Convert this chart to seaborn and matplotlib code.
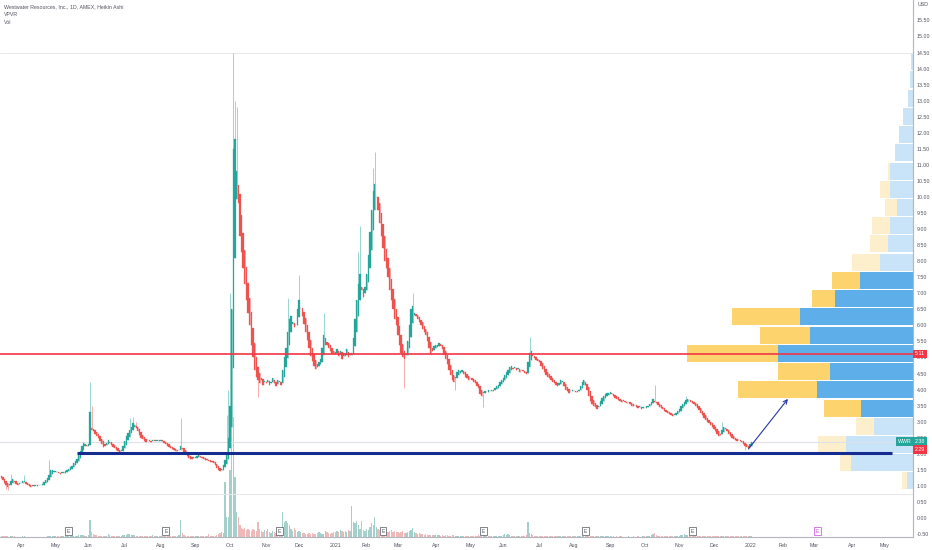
import numpy as np
import pandas as pd
import seaborn as sns
import matplotlib.pyplot as plt

# Heikin Ashi closes, one list per month (USD)
close_2020_03 = [1.30, 1.25, 1.18, 1.10, 1.02, 0.98, 1.05, 1.15, 1.22, 1.12, 1.06, 1.04, 1.08]
close_2020_04 = [1.10, 1.15, 1.12, 1.05, 1.02, 1.00, 0.98, 1.00, 1.02, 1.01, 1.03, 1.02, 1.04, 1.05,
                 1.12, 1.18, 1.25, 1.35, 1.50, 1.48, 1.45]
close_2020_05 = [1.45, 1.42, 1.40, 1.38, 1.40, 1.42, 1.45, 1.48, 1.52, 1.58, 1.62, 1.70, 1.78, 1.85,
                 1.95, 2.10, 2.25, 2.35, 2.30, 2.25]
close_2020_06 = [2.30, 3.30, 2.75, 2.70, 2.62, 2.55, 2.48, 2.40, 2.30, 2.20, 2.25, 2.35, 2.43, 2.35,
                 2.28, 2.22, 2.18, 2.12, 2.08, 2.05, 2.10, 2.25]
close_2020_07 = [2.40, 2.55, 2.65, 2.75, 2.85, 2.95, 2.90, 2.80, 2.70, 2.60, 2.50, 2.45, 2.40, 2.38,
                 2.42, 2.40, 2.38, 2.42, 2.40, 2.41, 2.43, 2.40]
close_2020_08 = [2.44, 2.40, 2.35, 2.30, 2.25, 2.22, 2.18, 2.15, 2.12, 2.10, 2.08, 2.12, 2.25, 2.15,
                 2.05, 1.98, 1.92, 1.88, 1.85, 1.85, 1.88]
close_2020_09 = [1.88, 1.92, 1.95, 1.90, 1.86, 1.84, 1.82, 1.80, 1.78, 1.76, 1.75, 1.70, 1.65, 1.55,
                 1.48, 1.45, 1.52, 1.65, 1.80, 2.00, 2.50]
close_2020_10 = [3.50, 6.50, 11.50, 11.80, 10.80, 9.80, 8.80, 8.30, 7.80, 7.30, 6.80, 6.40, 6.00, 5.40,
                 5.00, 4.60, 4.40, 4.30, 4.20, 4.30, 4.15, 4.25]
close_2020_11 = [4.20, 4.30, 4.15, 4.25, 4.35, 4.20, 4.10, 4.30, 4.25, 4.15, 4.60, 5.00, 5.30, 5.80,
                 6.20, 6.30, 6.10, 5.95, 6.00, 6.50]
close_2020_12 = [6.80, 6.55, 6.30, 6.05, 5.80, 5.55, 5.30, 5.05, 4.90, 4.75, 4.65, 4.70, 4.85, 4.95,
                 5.30, 5.70, 5.60, 5.40, 5.30, 5.20, 5.10, 5.15]
close_2021_01 = [5.10, 5.25, 5.05, 5.20, 4.95, 5.15, 5.05, 5.25, 5.00, 5.10, 5.15, 5.60, 6.20, 6.80,
                 7.30, 7.60, 7.10, 6.90, 7.20]
close_2021_02 = [7.60, 8.20, 8.90, 9.60, 10.20, 10.40, 10.00, 9.60, 9.20, 8.80, 8.40, 8.00, 7.80, 7.50,
                 7.10, 6.80, 6.50, 6.20, 6.00]
close_2021_03 = [5.70, 5.40, 5.15, 5.00, 4.95, 5.10, 5.50, 6.00, 6.50, 6.60, 6.40, 6.30, 6.20, 6.10,
                 6.00, 5.90, 5.80, 5.70, 5.50, 5.30, 5.10, 5.20, 5.35]
close_2021_04 = [5.38, 5.40, 5.45, 5.35, 5.25, 5.10, 4.95, 4.80, 4.60, 4.45, 4.30, 4.25, 4.40, 4.55,
                 4.60, 4.58, 4.62, 4.50, 4.40, 4.35, 4.30]
close_2021_05 = [4.35, 4.30, 4.25, 4.20, 4.10, 4.05, 3.85, 3.80, 3.90, 3.95, 3.92, 3.98, 3.95, 4.00,
                 3.97, 4.05, 4.10, 4.15, 4.25, 4.30]
close_2021_06 = [4.35, 4.45, 4.55, 4.60, 4.70, 4.75, 4.65, 4.70, 4.60, 4.65, 4.55, 4.60, 4.58, 4.52,
                 4.50, 4.85, 5.15, 5.20, 5.05, 4.98, 4.92, 4.88]
close_2021_07 = [4.85, 4.75, 4.65, 4.55, 4.45, 4.40, 4.35, 4.30, 4.25, 4.20, 4.15, 4.10, 4.20, 4.30,
                 4.25, 4.10, 4.00, 3.95, 3.90, 3.95, 3.98]
close_2021_08 = [3.95, 3.92, 3.97, 4.00, 4.10, 4.25, 4.30, 4.15, 4.00, 3.80, 3.65, 3.55, 3.50, 3.45,
                 3.40, 3.50, 3.65, 3.75, 3.80, 3.85, 3.88, 3.90]
close_2021_09 = [3.92, 3.85, 3.80, 3.75, 3.72, 3.68, 3.65, 3.62, 3.66, 3.60, 3.58, 3.62, 3.55, 3.50,
                 3.48, 3.52, 3.45, 3.42, 3.48, 3.40, 3.45]
close_2021_10 = [3.42, 3.48, 3.50, 3.55, 3.62, 3.70, 3.62, 3.58, 3.52, 3.47, 3.42, 3.38, 3.33, 3.29,
                 3.27, 3.24, 3.21, 3.19, 3.22, 3.28, 3.34]
close_2021_11 = [3.40, 3.48, 3.55, 3.62, 3.67, 3.72, 3.68, 3.62, 3.58, 3.55, 3.50, 3.42, 3.35, 3.28,
                 3.20, 3.12, 3.05, 3.00, 2.95, 2.90, 2.85]
close_2021_12 = [2.78, 2.70, 2.62, 2.55, 2.60, 2.75, 2.85, 2.80, 2.70, 2.62, 2.55, 2.50, 2.45, 2.42,
                 2.40, 2.42, 2.40, 2.38, 2.30, 2.25, 2.20, 2.18]
close_2022_01 = [2.30, 2.38]

# daily volume, millions of shares
vol_2020_03 = [1.5, 1.2, 1.0, 0.8, 0.8, 0.6, 0.5, 0.7, 0.8, 0.6, 0.5, 0.5, 0.4]
vol_2020_04 = [0.5, 0.8, 0.6, 0.5, 0.4, 0.4, 0.3, 0.4, 0.3, 0.3, 0.4, 0.3, 0.4, 0.5, 0.4, 0.5, 0.6,
               0.8, 1.2, 1.0, 1.5]
vol_2020_05 = [1.2, 1.0, 0.8, 0.6, 0.6, 0.7, 0.8, 0.9, 1.0, 1.0, 1.2, 1.3, 1.4, 1.5, 1.8, 2.2, 2.0,
               1.8, 1.5, 1.4]
vol_2020_06 = [1.8, 17.0, 5.0, 3.0, 2.2, 1.8, 1.5, 1.4, 1.2, 1.2, 1.0, 1.5, 3.0, 1.8, 1.2, 1.0, 1.1,
               0.9, 0.9, 1.0, 1.4, 2.0]
vol_2020_07 = [2.5, 2.2, 3.0, 2.8, 2.0, 2.5, 1.8, 1.5, 1.4, 1.2, 1.0, 1.0, 0.9, 1.0, 1.2, 1.0, 0.8,
               2.5, 1.2, 0.8, 0.9, 1.0]
vol_2020_08 = [1.0, 0.9, 0.8, 0.8, 0.7, 0.8, 0.9, 0.8, 0.9, 0.8, 1.0, 2.0, 17.0, 4.0, 2.0, 1.5, 1.2,
               1.0, 1.0, 0.9, 0.9]
vol_2020_09 = [0.8, 0.7, 0.8, 0.9, 1.0, 1.2, 1.0, 1.2, 3.0, 1.5, 1.2, 1.0, 1.5, 2.5, 3.5, 4.5, 5.0,
               4.0, 55.0, 20.0, 20.0]
vol_2020_10 = [67.0, 130.0, 120.0, 60.0, 25.0, 20.0, 12.0, 9.0, 8.0, 9.0, 7.0, 8.0, 7.0, 6.0, 8.0, 7.0,
               6.0, 15.0, 8.0, 6.0, 5.0, 7.0]
vol_2020_11 = [6.0, 8.0, 5.0, 4.0, 6.0, 5.0, 4.0, 7.0, 5.0, 6.0, 25.0, 15.0, 16.0, 14.0, 12.0, 8.0,
               6.0, 9.0, 7.0, 5.0]
vol_2020_12 = [6.0, 5.0, 4.0, 4.0, 3.5, 3.0, 4.0, 3.0, 4.5, 3.5, 3.0, 4.0, 5.0, 4.0, 3.0, 3.5, 6.0,
               5.0, 4.0, 3.0, 4.0, 5.0]
vol_2021_01 = [5.0, 6.0, 5.0, 7.0, 6.0, 5.0, 6.0, 5.0, 7.0, 6.0, 31.0, 15.0, 14.0, 16.0, 12.0, 8.0,
               16.0, 7.0, 6.0]
vol_2021_02 = [8.0, 7.0, 10.0, 14.0, 12.0, 20.0, 10.0, 8.0, 7.0, 6.0, 8.0, 7.0, 6.0, 5.0, 6.0, 7.0,
               5.0, 6.0, 5.0]
vol_2021_03 = [5.0, 4.0, 5.0, 6.0, 4.0, 4.0, 5.0, 6.0, 7.0, 9.0, 5.0, 4.0, 3.0, 4.0, 3.0, 3.0, 2.5,
               3.0, 2.5, 2.0, 2.5, 2.0, 2.0]
vol_2021_04 = [2.0, 2.5, 2.0, 1.5, 2.0, 1.5, 1.8, 2.0, 1.5, 1.5, 2.5, 2.0, 1.5, 1.2, 1.5, 1.2, 1.0,
               1.2, 1.5, 1.0, 1.2]
vol_2021_05 = [1.5, 1.2, 1.0, 1.2, 1.5, 2.0, 1.5, 1.2, 1.0, 1.2, 1.0, 0.8, 1.0, 1.2, 1.0, 0.9, 1.0,
               1.2, 1.5, 1.5]
vol_2021_06 = [2.5, 3.0, 2.5, 3.0, 2.0, 1.5, 1.5, 1.2, 1.0, 1.2, 1.0, 1.0, 1.2, 1.5, 2.5, 15.0, 4.0,
               3.0, 2.0, 1.5, 1.5, 1.2]
vol_2021_07 = [1.2, 1.0, 1.0, 0.9, 0.8, 0.8, 0.9, 0.8, 0.7, 0.8, 0.7, 0.8, 1.0, 1.2, 0.9, 0.8, 0.8,
               0.7, 0.7, 0.6, 0.7]
vol_2021_08 = [0.7, 0.6, 0.7, 0.8, 1.0, 1.2, 1.0, 0.9, 0.8, 0.8, 0.7, 0.7, 0.8, 0.7, 0.6, 0.8, 0.9,
               0.8, 0.7, 0.7, 0.6, 0.7]
vol_2021_09 = [0.7, 0.6, 0.6, 0.5, 0.6, 0.5, 0.6, 0.6, 0.5, 0.5, 0.5, 0.6, 0.5, 0.5, 0.6, 0.5, 0.5,
               0.6, 0.5, 0.5, 0.6]
vol_2021_10 = [0.6, 0.7, 0.8, 1.5, 2.5, 3.0, 4.5, 2.0, 1.2, 1.0, 0.8, 0.8, 0.7, 0.7, 0.6, 0.6, 0.7,
               0.6, 0.8, 1.0, 1.2]
vol_2021_11 = [1.5, 2.0, 2.5, 3.0, 2.5, 2.0, 1.5, 1.2, 1.0, 1.0, 0.9, 1.0, 1.2, 1.0, 0.9, 0.8, 0.8,
               1.0, 0.9, 0.8, 0.9]
vol_2021_12 = [0.9, 1.0, 0.8, 0.8, 1.0, 1.5, 1.2, 1.0, 0.9, 0.8, 0.8, 0.7, 0.8, 0.7, 0.7, 0.8, 0.7,
               0.8, 0.9, 1.0, 1.2, 0.9]
vol_2022_01 = [1.5, 1.2]

# wick extremes that stick out of the bodies (bar number -> price)
wick_highs = {7: 1.38, 15: 1.35, 30: 1.80, 55: 4.24, 56: 3.50, 79: 3.10, 81: 3.15, 83: 3.00,
              110: 3.10, 138: 3.20, 139: 4.00, 140: 7.00, 142: 14.50, 143: 13.00, 144: 12.80,
              175: 6.85, 182: 7.57, 197: 6.40, 218: 8.30, 219: 9.10, 227: 10.90, 228: 11.40,
              251: 7.00, 322: 5.65, 398: 4.15, 417: 3.80, 439: 3.00}
wick_lows = {4: 0.90, 5: 0.88, 157: 3.77, 246: 4.05, 277: 4.00, 294: 3.46, 453: 2.12}

# visible range volume profile: 24 rows between the range low and high
vp_low, vp_high = 0.87, 14.50
vp_up = [6, 62, 67, 39, 52, 96, 83, 135, 103, 113, 78, 53, 33, 25, 23, 16, 23, 23, 18, 14, 10, 5, 3, 2]
vp_down = [5, 11, 28, 18, 37, 79, 52, 91, 50, 68, 23, 28, 28, 18, 18, 12, 10, 2, 0, 0, 0, 0, 0, 0]
va_first, va_last = 4, 11

# drawn levels
resistance = 5.11
support = 2.03
support_from, support_to = '2020-05-20', '2022-05-06'
arrow_from, arrow_to = ('2021-12-31', 2.15), ('2022-02-04', 3.71)
last_price, tag_price = 2.38, 2.29
high_line, low_line = 14.50, 0.75
earnings = ['2020-05-13', '2020-08-06', '2020-11-12', '2021-02-16', '2021-05-13',
            '2021-08-11', '2021-11-11', '2022-03-03']

nyse_holidays = ['2020-04-10', '2020-05-25', '2020-07-03', '2020-09-07', '2020-11-26', '2020-12-25',
                 '2021-01-01', '2021-01-18', '2021-02-15', '2021-04-02', '2021-05-31', '2021-07-05',
                 '2021-09-06', '2021-11-25', '2021-12-24', '2022-01-17', '2022-02-21', '2022-04-15',
                 '2022-05-30', '2022-06-20']

month_names = [n for n in globals() if n.startswith('close_20')]
closes = np.array(sum((globals()[n] for n in sorted(month_names)), []))
vols = np.array(sum((globals()[n.replace('close', 'vol')] for n in sorted(month_names)), []))

days = pd.bdate_range('2020-03-13', '2022-07-01', freq='C', holidays=nyse_holidays)
n = len(closes)
bars = np.arange(n)

# Heikin Ashi opens
opens = np.empty(n)
opens[0] = closes[0]
for i in range(1, n):
    opens[i] = (opens[i - 1] + closes[i - 1]) / 2
highs = np.maximum(opens, closes)
lows = np.minimum(opens, closes)
for k, v in wick_highs.items():
    highs[k] = max(highs[k], v)
for k, v in wick_lows.items():
    lows[k] = min(lows[k], v)
rising = closes >= opens

UP, DN = '#26a69a', '#ef5350'
TXT = '#50535e'
FS = 3.8

sns.set_theme(style='white')
plt.rcParams['font.family'] = ['Liberation Sans', 'DejaVu Sans']

fig = plt.figure(figsize=(9.32, 5.5), dpi=100)
pos = [0, 13 / 550, 913 / 932, 537 / 550]
ax = fig.add_axes(pos)
axv = fig.add_axes(pos, sharex=ax)
axp = fig.add_axes(pos, sharey=ax)
axv.set_zorder(0)
axp.set_zorder(1)
ax.set_zorder(2)
ax.patch.set_visible(False)
axp.patch.set_visible(False)

# volume
vol_df = pd.DataFrame({'bar': bars, 'vol': vols, 'dir': np.where(rising, 'up', 'down')})
sns.barplot(data=vol_df, x='bar', y='vol', hue='dir', palette={'up': UP, 'down': DN},
            native_scale=True, dodge=False, width=0.8, errorbar=None, alpha=0.45,
            linewidth=0, legend=False, ax=axv)
axv.set_ylim(0, 537)
axv.set_xlabel('')
axv.set_ylabel('')
axv.set_yticks([])
axv.tick_params(axis='x', labelbottom=False, length=0)
for s in axv.spines.values():
    s.set_visible(False)

# volume profile
row_h = (vp_high - vp_low) / len(vp_up)
centers = vp_low + (np.arange(len(vp_up)) + 0.5) * row_h
in_va = [va_first <= k <= va_last for k in range(len(vp_up))]
up_cols = ['#5eaee9' if v else '#c9e3f8' for v in in_va]
dn_cols = ['#fcd36c' if v else '#fdefcb' for v in in_va]
axp.barh(centers, vp_up, height=row_h * 0.93, left=0, color=up_cols, linewidth=0)
axp.barh(centers, vp_down, height=row_h * 0.93, left=vp_up, color=dn_cols, linewidth=0)
axp.set_xlim(913, 0)
axp.set_xticks([])
axp.tick_params(axis='y', left=False, labelleft=False, right=False)
for s in axp.spines.values():
    s.set_visible(False)

# candles
ax.vlines(bars[rising], lows[rising], highs[rising], color=UP, lw=0.6, alpha=0.55, zorder=3)
ax.vlines(bars[~rising], lows[~rising], highs[~rising], color=DN, lw=0.6, alpha=0.55, zorder=3)
body = np.maximum(np.abs(closes - opens), 0.02)
ax.bar(bars, body, bottom=np.minimum(opens, closes), width=0.8,
       color=np.where(rising, UP, DN), edgecolor=np.where(rising, UP, DN), linewidth=0.2, zorder=4)

loc = lambda d: days.get_loc(pd.Timestamp(d))

ax.axhline(high_line, color='#e6e8ee', lw=0.7, zorder=1)
ax.axhline(low_line, color='#e6e8ee', lw=0.7, zorder=1)
ax.axhline(last_price, color='#dfe1e8', lw=0.8, zorder=1)
ax.axhline(resistance, color='#f23645', lw=1.2, zorder=6)
ax.hlines(support, loc(support_from), loc(support_to), color='#142b8f', lw=2.2, zorder=6)
ax.annotate('', xy=(loc(arrow_to[0]), arrow_to[1]), xytext=(loc(arrow_from[0]), arrow_from[1]),
            arrowprops=dict(arrowstyle='->', color='#2536a6', lw=0.8, mutation_scale=7,
                            shrinkA=0, shrinkB=0), zorder=7)

# earnings markers
for j, d in enumerate(earnings):
    c = '#c548e0' if j == len(earnings) - 1 else '#50535e'
    ax.text(loc(d), 0.011, 'E', transform=ax.get_xaxis_transform(), ha='center', va='center',
            fontsize=3.6, color=c, zorder=8,
            bbox=dict(boxstyle='square,pad=0.35', fc='white', ec=c, lw=0.5))

# axes
ax.set_xlim(0.27, 555.0)
ax.set_ylim(-0.592, 16.137)
month_idx, month_lab = [], []
ym = days.year * 12 + days.month
for i in range(1, len(days)):
    if ym[i] != ym[i - 1] and i < 555:
        month_idx.append(i)
        month_lab.append(str(days[i].year) if days[i].month == 1 else days[i].strftime('%b'))
ax.set_xticks(month_idx)
ax.set_xticklabels(month_lab)
ax.yaxis.tick_right()
ax.set_yticks(np.arange(-0.5, 15.51, 0.5))
ax.set_yticklabels([f'{v:.2f}' for v in np.arange(-0.5, 15.51, 0.5)])
ax.tick_params(axis='x', length=0, pad=4.2, labelsize=FS, colors=TXT)
ax.tick_params(axis='y', length=0, pad=2.5, labelsize=FS, colors=TXT)
for k in ['top', 'left']:
    ax.spines[k].set_visible(False)
for k in ['right', 'bottom']:
    ax.spines[k].set_color('#b2b5be')
    ax.spines[k].set_linewidth(0.8)
ax.grid(False)


def price_tag(y, text, fc, dx=1.2, dy=0, ha='left'):
    ax.annotate(text, xy=(1, y), xycoords=('axes fraction', 'data'), xytext=(dx, dy),
                textcoords='offset points', ha=ha, va='center', fontsize=FS, color='white',
                annotation_clip=False, zorder=10,
                bbox=dict(boxstyle='square,pad=0.35', fc=fc, ec='none'))


price_tag(resistance, f'{resistance:.2f}', '#f23645')
price_tag(last_price, f'{last_price:.2f}', UP)
price_tag(last_price, 'WWR', UP, dx=-1.2, ha='right')
price_tag(tag_price, f'{tag_price:.2f}', '#f23645', dy=-3.4)

fig.text(918 / 932, 1 - 5 / 550, 'USD', fontsize=FS, color=TXT, va='center')
fig.text(4 / 932, 1 - 7 / 550, 'Westwater Resources, Inc., 1D, AMEX, Heikin Ashi', fontsize=FS,
         color=TXT, va='center')
fig.text(4 / 932, 1 - 15 / 550, 'VPVR', fontsize=FS, color=TXT, va='center')
fig.text(4 / 932, 1 - 23 / 550, 'Vol', fontsize=FS, color=TXT, va='center')

fig.savefig('out.png', dpi=100)
